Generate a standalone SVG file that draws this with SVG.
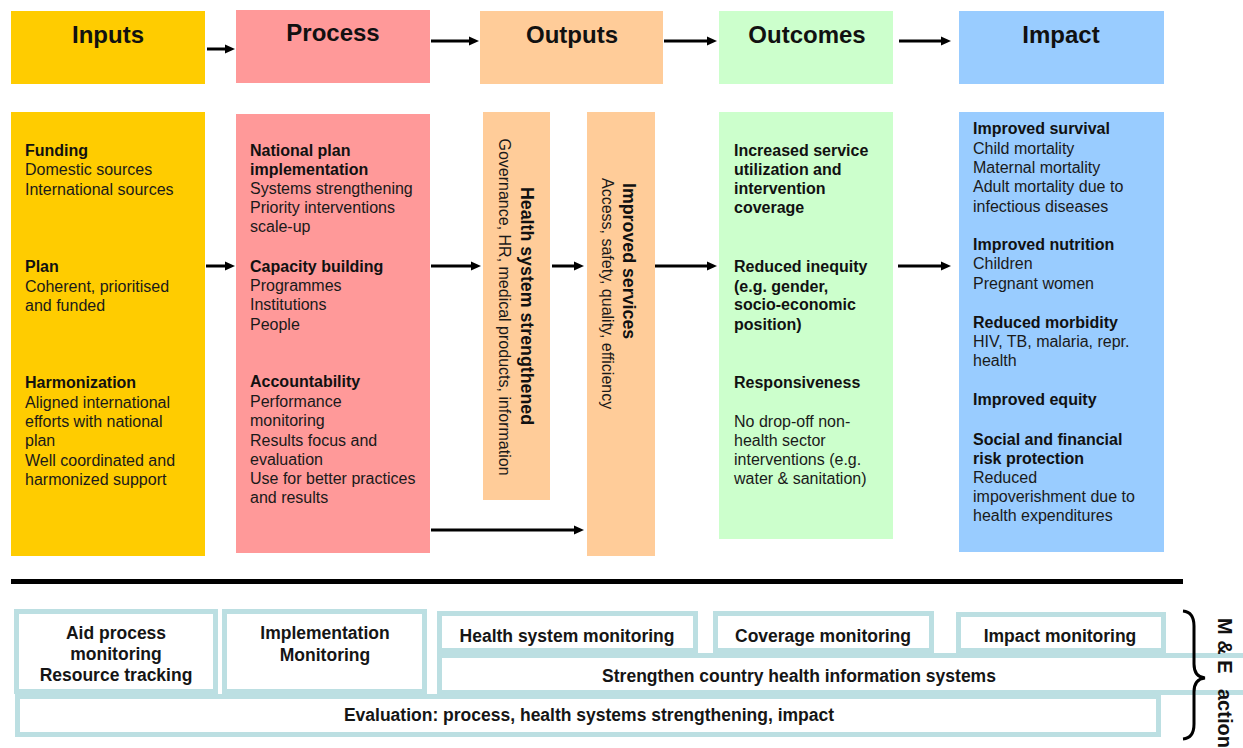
<svg xmlns="http://www.w3.org/2000/svg" width="1243" height="748" viewBox="0 0 1243 748">
<style>
text{font-family:"Liberation Sans",Arial,Helvetica,sans-serif;fill:#111}
.hd{font-size:24px;font-weight:bold;text-anchor:middle}
.b{font-size:16px;font-weight:bold}
.r{font-size:16px;fill:#1a1a1a}
.rt{font-size:17.8px;font-weight:bold}
.bt{font-size:17.5px;font-weight:bold;text-anchor:middle;fill:#151515}
.mb{fill:#fff;stroke:#BCDFE2;stroke-width:5}
.ln{stroke:#000;stroke-width:3;fill:none;marker-end:url(#ah)}
</style>
<defs>
<marker id="ah" viewBox="0 0 10 10" refX="4" refY="5" markerWidth="10" markerHeight="10" markerUnits="userSpaceOnUse" orient="auto">
<path d="M0,0.5 L10,5 L0,9.5 z" fill="#000"/>
</marker>
</defs>
<rect width="1243" height="748" fill="#fff"/>

<g id="header-inputs"><rect x="11" y="11" width="194" height="73" fill="#FFCC00"/><text class="hd" x="108" y="43">Inputs</text></g>
<g id="header-process"><rect x="236" y="10" width="194" height="73" fill="#FF9999"/><text class="hd" x="333" y="41">Process</text></g>
<g id="header-outputs"><rect x="480" y="11" width="183" height="73" fill="#FFCC99"/><text class="hd" x="572" y="43">Outputs</text></g>
<g id="header-outcomes"><rect x="719" y="11" width="174" height="73" fill="#CCFFCC"/><text class="hd" x="807" y="43">Outcomes</text></g>
<g id="header-impact"><rect x="959" y="11" width="205" height="73" fill="#99CCFF"/><text class="hd" x="1061" y="43">Impact</text></g>

<g id="inputs">
<rect x="11" y="112" width="194" height="444" fill="#FFCC00"/>
<text class="b" x="25" y="156">Funding</text>
<text class="r" x="25" y="175">Domestic sources</text>
<text class="r" x="25" y="195">International sources</text>
<text class="b" x="25" y="272">Plan</text>
<text class="r" x="25" y="292">Coherent, prioritised</text>
<text class="r" x="25" y="311">and funded</text>
<text class="b" x="25" y="388">Harmonization</text>
<text class="r" x="25" y="408">Aligned international</text>
<text class="r" x="25" y="427">efforts with national</text>
<text class="r" x="25" y="446">plan</text>
<text class="r" x="25" y="466">Well coordinated and</text>
<text class="r" x="25" y="485">harmonized support</text>
</g>

<g id="process">
<rect x="236" y="114" width="194" height="439" fill="#FF9999"/>
<text class="b" x="250" y="156">National plan</text>
<text class="b" x="250" y="175">implementation</text>
<text class="r" x="250" y="194">Systems strengthening</text>
<text class="r" x="250" y="213">Priority interventions</text>
<text class="r" x="250" y="232">scale-up</text>
<text class="b" x="250" y="272">Capacity building</text>
<text class="r" x="250" y="291">Programmes</text>
<text class="r" x="250" y="310">Institutions</text>
<text class="r" x="250" y="330">People</text>
<text class="b" x="250" y="387">Accountability</text>
<text class="r" x="250" y="407">Performance</text>
<text class="r" x="250" y="426">monitoring</text>
<text class="r" x="250" y="446">Results focus and</text>
<text class="r" x="250" y="465">evaluation</text>
<text class="r" x="250" y="484">Use for better practices</text>
<text class="r" x="250" y="503">and results</text>
</g>

<g id="health-system">
<rect x="483" y="112" width="67" height="388" fill="#FFCC99"/>
<text class="rt" text-anchor="middle" transform="translate(521,306) rotate(90)">Health system strengthened</text>
<text class="r" text-anchor="middle" transform="translate(498.5,307) rotate(90)">Governance, HR, medical products, information</text>
</g>

<g id="improved-services">
<rect x="587" y="112" width="68" height="444" fill="#FFCC99"/>
<text class="rt" transform="translate(622.5,183) rotate(90)">Improved services</text>
<text class="r" transform="translate(601.5,178) rotate(90)">Access, safety, quality, efficiency</text>
</g>

<g id="outcomes">
<rect x="719" y="112" width="174" height="427" fill="#CCFFCC"/>
<text class="b" x="734" y="156">Increased service</text>
<text class="b" x="734" y="175">utilization and</text>
<text class="b" x="734" y="194">intervention</text>
<text class="b" x="734" y="213">coverage</text>
<text class="b" x="734" y="272">Reduced inequity</text>
<text class="b" x="734" y="292">(e.g. gender,</text>
<text class="b" x="734" y="310">socio-economic</text>
<text class="b" x="734" y="330">position)</text>
<text class="b" x="734" y="388">Responsiveness</text>
<text class="r" x="734" y="427">No drop-off non-</text>
<text class="r" x="734" y="446">health sector</text>
<text class="r" x="734" y="465">interventions (e.g.</text>
<text class="r" x="734" y="484">water &amp; sanitation)</text>
</g>

<g id="impact">
<rect x="959" y="112" width="205" height="440" fill="#99CCFF"/>
<text class="b" x="973" y="134">Improved survival</text>
<text class="r" x="973" y="154">Child mortality</text>
<text class="r" x="973" y="173">Maternal mortality</text>
<text class="r" x="973" y="192">Adult mortality due to</text>
<text class="r" x="973" y="212">infectious diseases</text>
<text class="b" x="973" y="250">Improved nutrition</text>
<text class="r" x="973" y="269">Children</text>
<text class="r" x="973" y="289">Pregnant women</text>
<text class="b" x="973" y="328">Reduced morbidity</text>
<text class="r" x="973" y="347">HIV, TB, malaria, repr.</text>
<text class="r" x="973" y="366">health</text>
<text class="b" x="973" y="405">Improved equity</text>
<text class="b" x="973" y="445">Social and financial</text>
<text class="b" x="973" y="464">risk protection</text>
<text class="r" x="973" y="483">Reduced</text>
<text class="r" x="973" y="502">impoverishment due to</text>
<text class="r" x="973" y="521">health expenditures</text>
</g>

<g id="connectors">
<line class="ln" x1="207" y1="49" x2="229" y2="49"/>
<line class="ln" x1="431" y1="41" x2="473" y2="41"/>
<line class="ln" x1="664" y1="41" x2="711" y2="41"/>
<line class="ln" x1="899" y1="41" x2="945" y2="41"/>
<line class="ln" x1="206" y1="266" x2="229" y2="266"/>
<line class="ln" x1="431" y1="266" x2="475" y2="266"/>
<line class="ln" x1="552" y1="266" x2="578" y2="266"/>
<line class="ln" x1="655" y1="266" x2="711" y2="266"/>
<line class="ln" x1="898" y1="266" x2="945" y2="266"/>
<line class="ln" x1="431" y1="530" x2="578" y2="530"/>
</g>

<g id="divider"><rect x="11" y="579" width="1172" height="5" fill="#000"/></g>

<g id="me-evaluation"><rect class="mb" x="17.5" y="696.5" width="1141" height="38"/><text class="bt" x="589" y="721">Evaluation: process, health systems strengthening, impact</text></g>
<g id="me-aid"><rect class="mb" x="16.5" y="611.5" width="199" height="80"/><text class="bt" x="116" y="639">Aid process</text><text class="bt" x="116" y="660">monitoring</text><text class="bt" x="116" y="681">Resource tracking</text></g>
<g id="me-implementation"><rect class="mb" x="224.5" y="611.5" width="200" height="80"/><text class="bt" x="325" y="639">Implementation</text><text class="bt" x="325" y="661">Monitoring</text></g>
<g id="me-strengthen"><rect class="mb" x="439.5" y="655.5" width="1119" height="37"/><text class="bt" x="799" y="682">Strengthen country health information systems</text></g>
<g id="me-health"><rect class="mb" x="439.5" y="613.5" width="256" height="37"/><text class="bt" x="567" y="642">Health system monitoring</text></g>
<g id="me-coverage"><rect class="mb" x="715.5" y="613.5" width="216" height="37"/><text class="bt" x="823" y="642">Coverage monitoring</text></g>
<g id="me-impact"><rect class="mb" x="958.5" y="614.5" width="205" height="36"/><text class="bt" x="1060" y="642">Impact monitoring</text></g>

<g id="brace">
<path d="M1183,611 Q1194,612 1194,626 L1194,664 Q1194,677 1205,678 Q1194,679 1194,692 L1194,724 Q1194,738 1183,739" fill="none" stroke="#000" stroke-width="3"/>
<text font-size="20" font-weight="bold" transform="translate(1218,618) rotate(90)">M &amp; E</text>
<text font-size="20" font-weight="bold" transform="translate(1218,689) rotate(90)">action</text>
</g>
</svg>
